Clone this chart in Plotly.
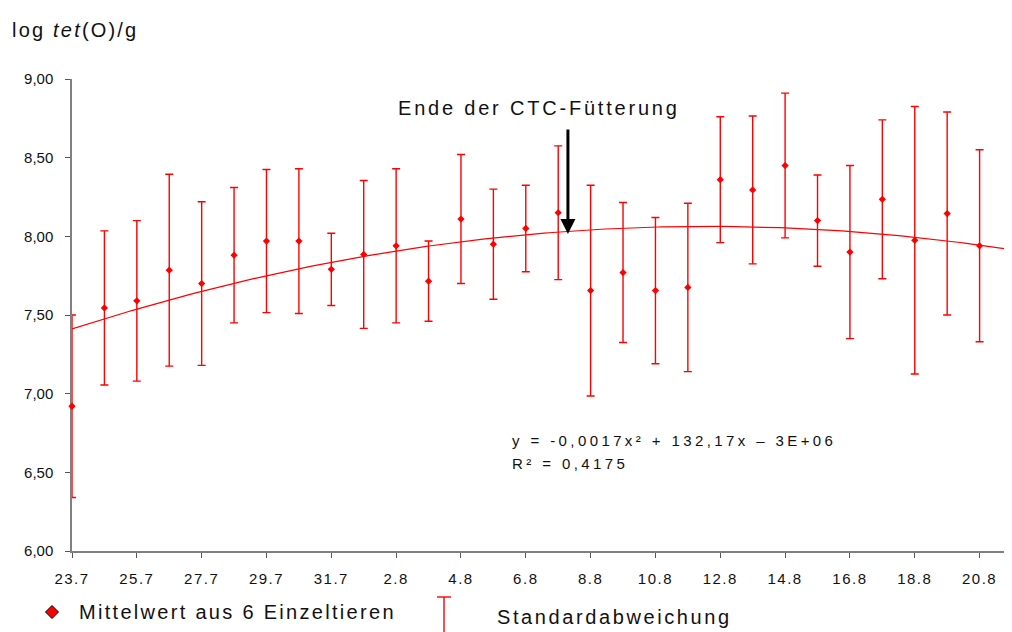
import numpy as np
import plotly.graph_objects as go

# ---- data ----
days = ['23.7', '24.7', '25.7', '26.7', '27.7', '28.7', '29.7', '30.7', '31.7',
        '1.8', '2.8', '3.8', '4.8', '5.8', '6.8', '7.8', '8.8', '9.8', '10.8',
        '11.8', '12.8', '13.8', '14.8', '15.8', '16.8', '17.8', '18.8', '19.8',
        '20.8', '21.8']
mean_vals = [6.92, 7.545, 7.59, 7.785, 7.70, 7.88, 7.97, 7.97, 7.79, 7.885,
             7.94, 7.715, 8.11, 7.95, 8.05, 8.15, 7.655, 7.77, 7.655, 7.675,
             8.36, 8.295, 8.45, 8.10, 7.90, 8.235, 7.975, 8.145, 7.94, 7.66]
sd_vals = [0.58, 0.49, 0.51, 0.61, 0.52, 0.43, 0.455, 0.46, 0.23, 0.47,
           0.49, 0.255, 0.41, 0.35, 0.275, 0.425, 0.67, 0.445, 0.465, 0.535,
           0.40, 0.47, 0.46, 0.29, 0.55, 0.505, 0.85, 0.645, 0.61, 0.92]
y_ticks = [6.0, 6.5, 7.0, 7.5, 8.0, 8.5, 9.0]
y_ticktext = ['6,00', '6,50', '7,00', '7,50', '8,00', '8,50', '9,00']
arrow_day = 15.3          # position of "Ende der CTC-Fütterung" (between 7.8 and 8.8)
equation = 'y = -0,0017x² + 132,17x – 3E+06'
r_squared = 'R² = 0,4175'

# ---- layout constants (page pixels; the page body adds an 8px offset) ----
OFF = 8
PL, PT, PR, PB = 72, 79, 1012, 551          # plot area edges in page pixels
W, H = PR - OFF, 632 - OFF
L, T = PL - OFF, PT - OFF
R = 0
B = (OFF + H) - PB
PW, PH = PR - PL, PB - PT
FONT = 'Liberation Sans, Arial, sans-serif'
RED = '#FF0000'
TXT = '#111111'


def px(xp):
    return (xp - PL) / PW


def py(yp):
    return (PB - yp) / PH


def ls(text, sp):
    return f'<span style="letter-spacing:{sp}px">{text}</span>'


x_idx = np.arange(len(days))
x_max = len(days) - 1
coef = np.polyfit(x_idx, mean_vals, 2)
x_fit = np.linspace(0, x_max, 200)
y_fit = np.polyval(coef, x_fit)

fig = go.Figure()
fig.add_trace(go.Scatter(
    x=x_fit, y=y_fit, mode='lines',
    line=dict(color=RED, width=1.2), hoverinfo='skip', showlegend=False))
fig.add_trace(go.Scatter(
    x=x_idx, y=mean_vals, mode='markers',
    marker=dict(symbol='diamond', size=5.6, color=RED),
    error_y=dict(type='data', array=sd_vals, visible=True, color=RED,
                 thickness=1.4, width=4),
    cliponaxis=False, showlegend=False))

tick_idx = list(range(0, len(days), 2))
fig.update_xaxes(
    range=[0, x_max], tickmode='array', tickvals=tick_idx,
    ticktext=[ls(days[i], 1.5) for i in tick_idx],
    showline=True, linecolor='#808080', linewidth=1.5,
    ticks='outside', ticklen=5, tickcolor='#555555', tickwidth=1,
    showgrid=False, zeroline=False, layer='below traces',
    tickfont=dict(family=FONT, size=15, color=TXT),
    ticklabelstandoff=8)
fig.update_yaxes(
    range=[6, 9], tickmode='array', tickvals=y_ticks, ticktext=y_ticktext,
    showline=True, linecolor='#808080', linewidth=1.5,
    ticks='outside', ticklen=5, tickcolor='#555555', tickwidth=1,
    showgrid=False, zeroline=False, layer='below traces',
    tickfont=dict(family=FONT, size=15, color=TXT),
    ticklabelstandoff=9)

annotations = [
    dict(xref='paper', yref='paper', x=px(10), y=py(30), xanchor='left',
         yanchor='middle', showarrow=False,
         text=ls('log <i>tet</i>(O)/g', 2.2),
         font=dict(family=FONT, size=20, color=TXT)),
    dict(xref='paper', yref='paper', x=px(538.5), y=py(108),
         xanchor='center', yanchor='middle', showarrow=False,
         text=ls('Ende der CTC-Fütterung', 2.8),
         font=dict(family=FONT, size=20, color=TXT)),
    dict(xref='x', yref='y', x=arrow_day, y=8.015, text='', showarrow=True,
         ax=0, ay=-106, arrowhead=2, arrowsize=1, arrowwidth=3,
         arrowcolor='#000000'),
    dict(xref='paper', yref='paper', x=px(510), y=py(440), xanchor='left',
         yanchor='middle', showarrow=False, text=ls(equation, 3.4),
         font=dict(family=FONT, size=15, color=TXT)),
    dict(xref='paper', yref='paper', x=px(510), y=py(463), xanchor='left',
         yanchor='middle', showarrow=False, text=ls(r_squared, 3.4),
         font=dict(family=FONT, size=15, color=TXT)),
    dict(xref='paper', yref='paper', x=px(77), y=py(612), xanchor='left',
         yanchor='middle', showarrow=False,
         text=ls('Mittelwert aus 6 Einzeltieren', 2.3),
         font=dict(family=FONT, size=20, color=TXT)),
    dict(xref='paper', yref='paper', x=px(495), y=py(617), xanchor='left',
         yanchor='middle', showarrow=False,
         text=ls('Standardabweichung', 2.6),
         font=dict(family=FONT, size=20, color=TXT)),
]

# legend symbols
dx, dy, cx, cy = 6.5, 6.5, 52, 612
shapes = [
    dict(type='path', xref='paper', yref='paper',
         path=(f'M{px(cx - dx)},{py(cy)} L{px(cx)},{py(cy - dy)} '
               f'L{px(cx + dx)},{py(cy)} L{px(cx)},{py(cy + dy)} Z'),
         fillcolor=RED, line=dict(color='#000000', width=1)),
    dict(type='line', xref='paper', yref='paper', x0=px(444), x1=px(444),
         y0=py(597), y1=py(640), line=dict(color=RED, width=1.4)),
    dict(type='line', xref='paper', yref='paper', x0=px(437), x1=px(451),
         y0=py(597), y1=py(597), line=dict(color=RED, width=1.4)),
]

fig.update_layout(
    width=W, height=H, margin=dict(l=L, r=R, t=T, b=B, pad=0),
    paper_bgcolor='white', plot_bgcolor='white',
    font=dict(family=FONT, color=TXT),
    annotations=annotations, shapes=shapes, showlegend=False)

fig.write_html('out.html')
